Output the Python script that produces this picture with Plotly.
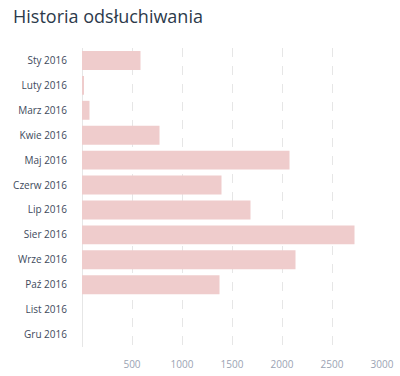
import plotly.graph_objects as go

categories = ["Sty 2016", "Luty 2016", "Marz 2016", "Kwie 2016", "Maj 2016", "Czerw 2016",
              "Lip 2016", "Sier 2016", "Wrze 2016", "Paź 2016", "List 2016", "Gru 2016"]
values = [585, 15, 75, 775, 2075, 1395, 1685, 2725, 2135, 1375, 0, 0]
x_ticks = [500, 1000, 1500, 2000, 2500, 3000]

fig = go.Figure(go.Bar(
    x=values, y=categories, orientation="h",
    marker=dict(color="rgb(239,204,204)", line=dict(width=0)),
    hoverinfo="skip",
))

fig.update_layout(
    width=400, height=376,
    margin=dict(l=81.5, r=18, t=48, b=29, autoexpand=False),
    paper_bgcolor="white", plot_bgcolor="white",
    bargap=0.24,
    showlegend=False,
    title=dict(text="Historia odsłuchiwania", xref="container", x=0.0325, xanchor="left",
               y=1, yref="container", yanchor="top", pad=dict(t=10, l=0),
               font=dict(family="Open Sans", size=18, color="#2c3a4b")),
    font=dict(family="Open Sans"),
)

fig.update_xaxes(
    range=[0, 3000], tickvals=x_ticks, ticktext=[str(v) for v in x_ticks],
    showgrid=True, gridcolor="#e6e6e6", griddash="dash", gridwidth=1,
    zeroline=True, zerolinecolor="#e6e6e6", zerolinewidth=1,
    ticks="outside", ticklen=8, tickcolor="rgba(0,0,0,0)",
    tickfont=dict(family="Open Sans", size=10, color="#9aa3b3"),
    showline=False, fixedrange=True, automargin=False,
)
fig.update_yaxes(
    autorange="reversed", categoryorder="array", categoryarray=categories,
    showgrid=False, zeroline=False, showline=False,
    ticks="outside", ticklen=12, tickcolor="rgba(0,0,0,0)",
    tickfont=dict(family="Open Sans", size=10, color="#3e4a5c"),
    fixedrange=True, automargin=False,
)

fig.write_html("out.html", config={"displayModeBar": False},
               post_script="document.body.style.margin='0';document.body.style.overflow='hidden';")
